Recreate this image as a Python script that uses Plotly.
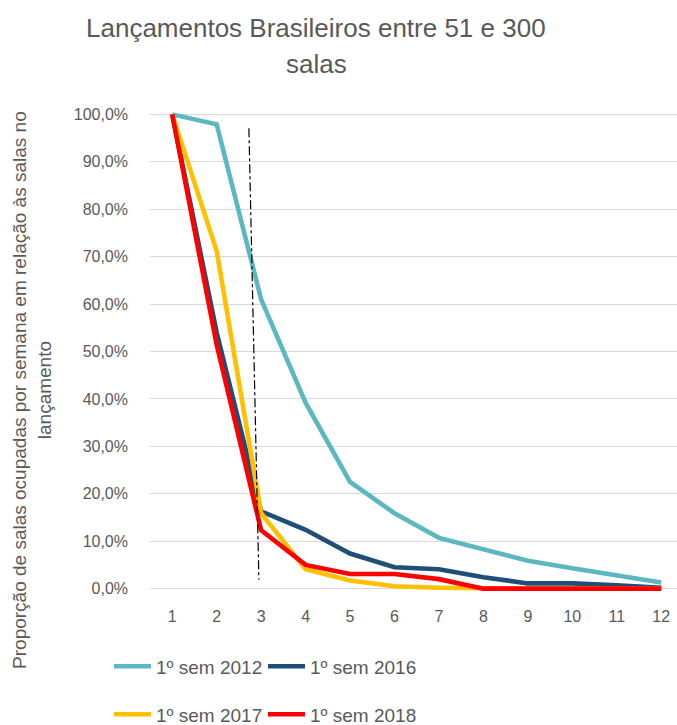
import plotly.graph_objects as go

weeks = [1, 2, 3, 4, 5, 6, 7, 8, 9, 10, 11, 12]
s2012 = [1.000, 0.979, 0.610, 0.392, 0.225, 0.159, 0.107, 0.082, 0.059, 0.043, 0.029, 0.013]
s2016 = [1.000, 0.540, 0.163, 0.124, 0.074, 0.045, 0.041, 0.024, 0.011, 0.011, 0.007, 0.002]
s2017 = [1.000, 0.712, 0.159, 0.041, 0.017, 0.005, 0.002, 0.000, 0.000, 0.000, 0.000, 0.000]
s2018 = [1.000, 0.514, 0.123, 0.050, 0.031, 0.031, 0.020, 0.000, 0.000, 0.000, 0.000, 0.000]

series_names = ["1º sem 2012", "1º sem 2016", "1º sem 2017", "1º sem 2018"]
series_vals = [s2012, s2016, s2017, s2018]
colors = ["#5BB8C1", "#1F4E79", "#FFC000", "#FF0000"]
legends = ["legend", "legend", "legend2", "legend2"]
y_ticks = [0, 0.1, 0.2, 0.3, 0.4, 0.5, 0.6, 0.7, 0.8, 0.9, 1.0]
title_lines = ["Lançamentos Brasileiros entre 51 e 300", "salas"]

W, H = 677, 725
ML, MR, MT, MB = 150, 0, 111.6, 133.6
GRAY = "#595959"
FONT = "Liberation Sans, Arial, sans-serif"

plot_w = W - ML - MR
plot_h = H - MT - MB


def px_x(px):
    return (px - ML) / plot_w


def px_y(py):
    return (H - MB - py) / plot_h


fig = go.Figure()
for name, vals, col, lg in zip(series_names, series_vals, colors, legends):
    fig.add_trace(go.Scatter(
        x=weeks, y=vals, mode="lines", name=name,
        line=dict(color=col, width=4.6), legend=lg,
    ))

# dash-dot marker line
fig.add_shape(type="line", xref="x", yref="y", x0=2.725, y0=0.9705, x1=2.95, y1=0.019,
              line=dict(color="black", width=1.2, dash="dashdot"))

legend_common = dict(
    orientation="h", xanchor="left", yanchor="middle",
    font=dict(size=19, color=GRAY), bgcolor="rgba(0,0,0,0)",
    itemwidth=37, entrywidth=102, borderwidth=0,
)

fig.update_layout(
    width=W, height=H,
    margin=dict(l=ML, r=MR, t=MT, b=MB, pad=0, autoexpand=False),
    paper_bgcolor="white", plot_bgcolor="white",
    separators=",.",
    font=dict(family=FONT, color=GRAY, size=16),
    xaxis=dict(
        range=[0.5, 0.5 + plot_w / 44.45],
        tickvals=weeks, ticktext=[str(w) for w in weeks],
        showgrid=False, zeroline=False, showline=False,
        ticks="", ticklabelstandoff=14, automargin=False,
        tickfont=dict(size=16, color=GRAY),
    ),
    yaxis=dict(
        range=[-0.005, 1.005],
        tickvals=y_ticks, tickformat=".1%",
        showgrid=True, gridcolor="#D9D9D9", gridwidth=1.2,
        zeroline=False, showline=False, ticks="",
        ticklabelstandoff=21, automargin=False,
        tickfont=dict(size=16, color=GRAY),
    ),
    legend=dict(x=px_x(109), y=px_y(667), **legend_common),
    legend2=dict(x=px_x(109), y=px_y(715), **legend_common),
    showlegend=True,
)

fig.add_annotation(
    text=title_lines[0], xref="paper", yref="paper",
    x=px_x(316), y=px_y(27), xanchor="center", yanchor="middle",
    showarrow=False, font=dict(size=26, color=GRAY, family=FONT),
)
fig.add_annotation(
    text=title_lines[1], xref="paper", yref="paper",
    x=px_x(316), y=px_y(64), xanchor="center", yanchor="middle",
    showarrow=False, font=dict(size=26, color=GRAY, family=FONT),
)

fig.add_annotation(
    text="Proporção de salas ocupadas por semana em relação às salas no<br>lançamento",
    xref="paper", yref="paper",
    x=px_x(32), y=px_y(390),
    xanchor="center", yanchor="middle", textangle=-90,
    showarrow=False, font=dict(size=19, color=GRAY, family=FONT),
)

fig.write_html(
    "out.html",
    config={"displayModeBar": False},
    post_script="document.body.style.margin='0px';document.body.style.overflow='hidden';",
)
